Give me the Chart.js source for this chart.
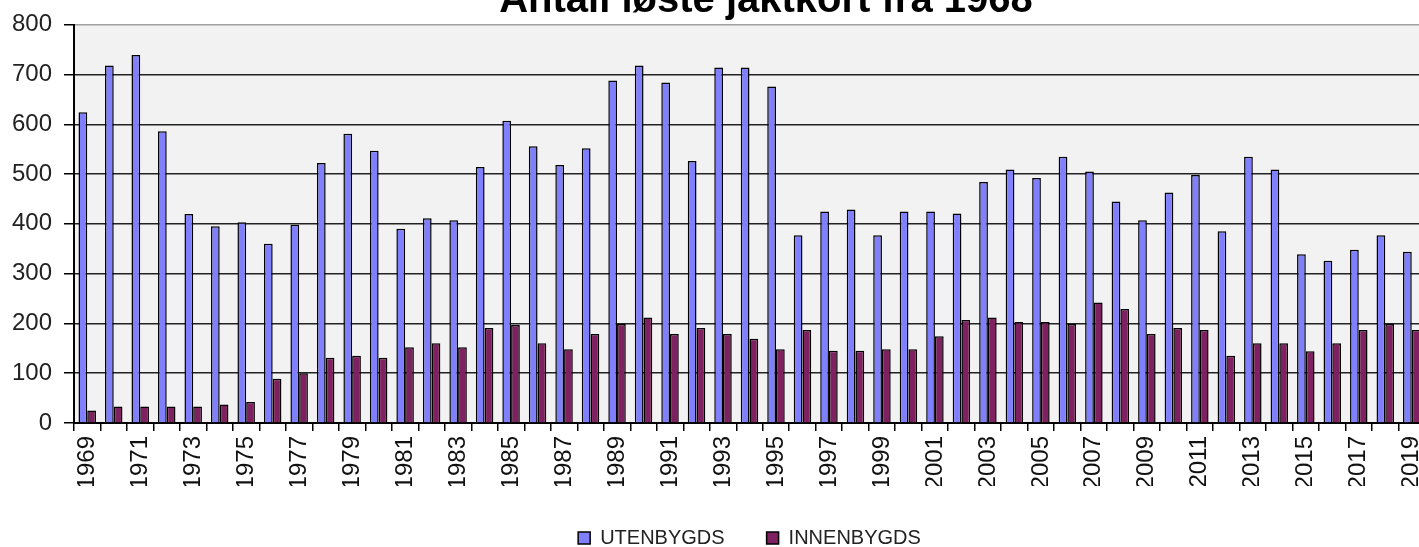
<!DOCTYPE html>
<html>
<head>
<meta charset="utf-8">
<title>Antall løste jaktkort fra 1968</title>
<script src="https://cdn.jsdelivr.net/npm/chart.js@4/dist/chart.umd.min.js"></script>
<style>
    html, body { margin: 0; padding: 0; background: #fff; overflow: hidden; }
    #wrap { position: absolute; left: 0; top: -19px; width: 1532px; height: 577px; }
</style>
</head>
<body>
<div id="wrap"><canvas id="jakt_chart"></canvas></div>
<script>
// Years on the x axis
const years = [];
for (let y = 1969; y <= 2019; y++) years.push(String(y));

// Hunting cards issued to non-residents
const utenbygds = [
    624, 718, 739, 586, 420, 395, 403, 360, 398, 522,
    581, 547, 390, 411, 407, 514, 607, 556, 518, 552,
    688, 718, 684, 526, 714, 714, 676, 377, 425, 429,
    377, 425, 425, 421, 484, 509, 492, 535, 505, 445,
    407, 463, 498, 385, 535, 509, 339, 326, 348, 377,
    344
];

// Hunting cards issued to residents
const innenbygds = [
    25, 33, 33, 33, 33, 37, 42, 89, 100, 131,
    135, 131, 152, 160, 152, 191, 197, 160, 148, 179,
    199, 212, 179, 191, 179, 169, 148, 187, 145, 145,
    148, 148, 174, 207, 212, 203, 203, 199, 242, 229,
    179, 191, 187, 135, 160, 160, 144, 160, 187, 199,
    187
];

const yTicks = [0, 100, 200, 300, 400, 500, 600, 700, 800];

const fontFamily = "'Liberation Sans', Arial, sans-serif";

// grey plot background
const plotBg = {
    id: 'plotBg',
    beforeDraw(chart) {
        const { ctx, chartArea } = chart;
        ctx.save();
        ctx.fillStyle = '#f2f2f2';
        ctx.fillRect(chartArea.left, chartArea.top, chartArea.right - chartArea.left, chartArea.bottom - chartArea.top);
        ctx.restore();
    }
};

const ctx = document.getElementById('jakt_chart').getContext('2d');
new Chart(ctx, {
    type: 'bar',
    data: {
        labels: years,
        datasets: [
            {
                label: 'UTENBYGDS',
                data: utenbygds,
                backgroundColor: '#8080ff',
                borderColor: '#000',
                borderWidth: 1.5,
                borderSkipped: 'bottom'
            },
            {
                label: 'INNENBYGDS',
                data: innenbygds,
                backgroundColor: '#7f2060',
                borderColor: '#000',
                borderWidth: 1.5,
                borderSkipped: 'bottom'
            }
        ]
    },
    options: {
        responsive: true,
        maintainAspectRatio: false,
        animation: false,
        layout: { padding: 0 },
        datasets: { bar: { categoryPercentage: 0.66, barPercentage: 1 } },
        plugins: {
            title: {
                display: true,
                text: 'Antall løste jaktkort fra 1968',
                color: '#000',
                font: { family: fontFamily, size: 40, weight: 'bold', lineHeight: 1 },
                padding: { top: 0, bottom: 3.7 }
            },
            legend: {
                position: 'bottom',
                fullSize: false,
                labels: {
                    color: '#222',
                    font: { family: fontFamily, size: 20 },
                    boxWidth: 12,
                    boxHeight: 12,
                    padding: 42
                }
            },
            tooltip: { enabled: false }
        },
        scales: {
            x: {
                grid: {
                    display: true,
                    drawOnChartArea: false,
                    drawTicks: true,
                    tickLength: 8,
                    offset: true,
                    color: '#000',
                    lineWidth: 1.5
                },
                border: { color: '#000', width: 2 },
                ticks: {
                    autoSkip: false,
                    minRotation: 90,
                    maxRotation: 90,
                    padding: 5,
                    color: '#111',
                    font: { family: fontFamily, size: 24 },
                    callback: function (value, index) {
                        return index % 2 === 0 ? this.getLabelForValue(value) : '';
                    }
                },
                afterFit: (scale) => { scale.height = 63; }
            },
            y: {
                min: 0,
                max: 800,
                afterBuildTicks: (scale) => { scale.ticks = yTicks.map(v => ({ value: v })); },
                grid: {
                    color: (c) => (c.tick && c.tick.value === 800 ? '#a0a0a0' : '#222'),
                    tickColor: '#000',
                    lineWidth: 1.5,
                    tickLength: 10
                },
                border: { color: '#000', width: 2 },
                ticks: {
                    padding: 12,
                    color: '#222',
                    font: { family: fontFamily, size: 24 }
                },
                afterFit: (scale) => { scale.width = 74; }
            },
            // empty spacer on the right, the plot runs past the window edge
            spacer: {
                type: 'linear',
                position: 'right',
                display: true,
                grid: { display: false, drawTicks: false },
                border: { display: false },
                ticks: { display: false },
                afterFit: (scale) => { scale.width = 107; }
            }
        }
    },
    plugins: [plotBg]
});
</script>
</body>
</html>
